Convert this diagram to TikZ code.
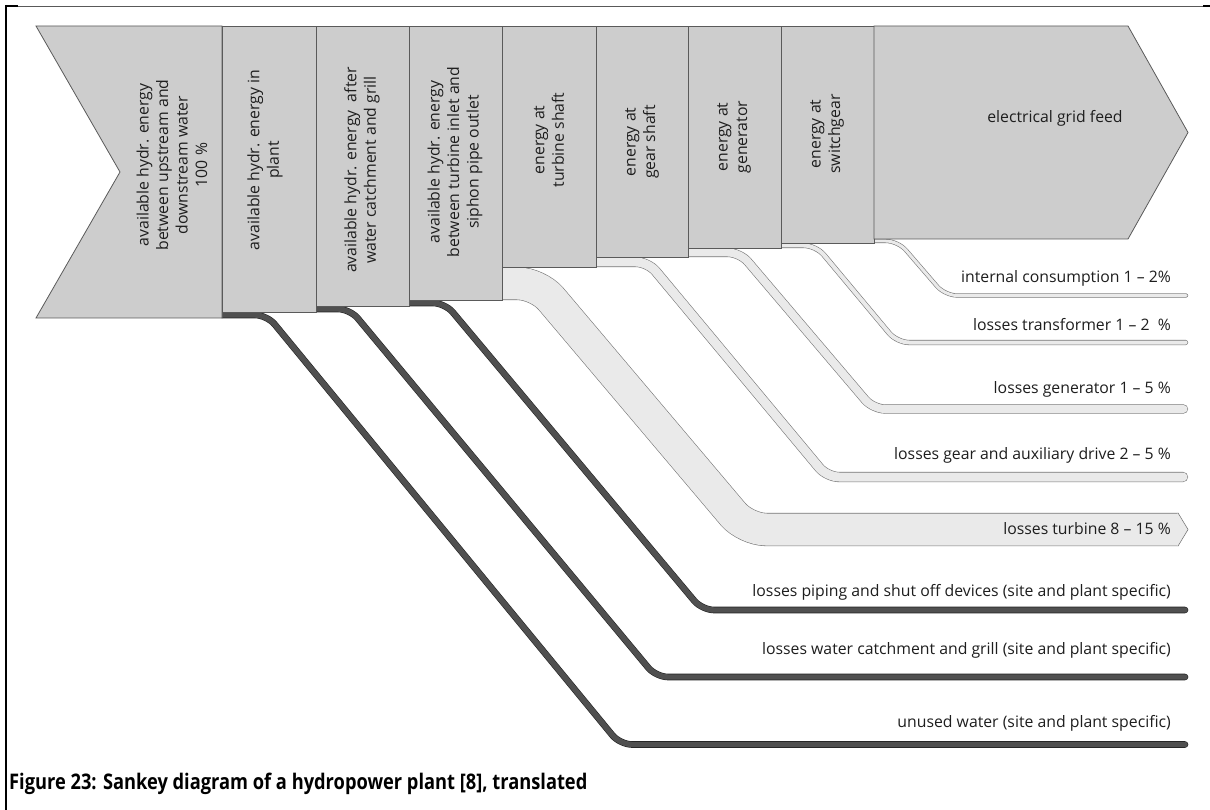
\documentclass[tikz,border=0pt]{standalone}
\usepackage{fontspec}
\setmainfont{Open Sans}
\usepackage{graphicx}
\usetikzlibrary{positioning}
\definecolor{blockfill}{HTML}{CDCDCD}
\definecolor{blockline}{HTML}{5A5A5A}
\definecolor{lightfill}{HTML}{EAEAEA}
\definecolor{lightline}{HTML}{777777}
\definecolor{darkfill}{HTML}{505050}
\definecolor{darkline}{HTML}{222222}
\definecolor{txt}{HTML}{1E1E1E}
\tikzset{
  block/.style={fill=blockfill,draw=blockline,line width=0.8pt},
  blocktext/.style={rotate=90,align=center,text=txt,inner sep=0pt,
                    font=\fontsize{15.8}{19.5}\selectfont},
  flow/.style={line width=0.6pt,double distance=#1,rounded corners=12pt,line cap=round},
  lightflow/.style={flow=#1,draw=lightline,double=lightfill},
  darkflow/.style={flow=#1,draw=darkline,double=darkfill},
  losslabel/.style={anchor=east,text=txt,inner sep=0pt,font=\fontsize{15.8}{19}\selectfont},
}
\begin{document}
\begin{tikzpicture}[x=1pt,y=-1pt]
  \useasboundingbox[fill=white] (0,0) rectangle (1210,810);

  % --- frame ---
  \draw[gray!70!black,line width=0.8pt] (6,6) -- (1207,6);
  \draw[black,line width=1.6pt] (6,5) -- (6,810);
  \draw[black,line width=1.6pt] (6,6) -- (18,6);
  \draw[black,line width=1.6pt] (1203,6) -- (1210,6);

  % --- losses (drawn first, the blocks cover their starts) ---
  \draw[darkflow=5.4pt] (222,315) -- (267,315) -- (620,744.5) -- (1185,744.5);
  \draw[darkflow=5.4pt] (316,309) -- (350,309) -- (656,677) -- (1185,677);
  \draw[darkflow=5.4pt] (409,303) -- (445,303) -- (702,610) -- (1185,610);
  \draw[lightflow=32pt,rounded corners=20pt,line cap=butt]
    (502,283.5) -- (538,283.5) -- (746,529.5) -- (1178,529.5);
  \fill[lightfill] (1177,512.9) -- (1188,529.5) -- (1177,546.1) -- cycle;
  \draw[lightline,line width=0.6pt] (1178,512.9) -- (1188,529.5) -- (1178,546.1);
  \draw[lightflow=9pt] (596,262) -- (648,262) -- (827,477) -- (1183,477);
  \draw[lightflow=8pt] (688,252.5) -- (740,252.5) -- (873,409) -- (1183.5,409);
  \draw[lightflow=4pt] (781,245.5) -- (816,245.5) -- (897,342.5) -- (1185.5,342.5);
  \draw[lightflow=3pt] (874,241) -- (898,241) -- (945,295.5) -- (1186,295.5);

  % --- energy blocks ---
  \draw[block] (36,26) -- (222,26) -- (222,318) -- (36,318) -- (120,172) -- cycle;
  \draw[block] (222,26) rectangle (316,312);
  \draw[block] (316,26) rectangle (409,306);
  \draw[block] (409,26) rectangle (502,300);
  \draw[block] (502,26) rectangle (596,267);
  \draw[block] (596,26) rectangle (688,257);
  \draw[block] (688,26) rectangle (781,248);
  \draw[block] (781,26) rectangle (874,243);
  \draw[block] (874,26) -- (1128,26) -- (1188,132.5) -- (1128,239) -- (874,239) -- cycle;

  \node[blocktext] (src) at (172,165)
    {available hydr. energy\\between upstream and\\downstream water\\100 \%};
  \node[blocktext] (plant) at (265,160) {available hydr. energy in\\plant};
  \node[blocktext] (catch) at (362,170) {available hydr. energy\ \ after\\water catchment and grill};
  \node[blocktext] (inlet) at (455,162)
    {available hydr. energy\\between turbine inlet and\\siphon pipe outlet};
  \node[blocktext] (tshaft) at (549,140) {energy at\\turbine shaft};
  \node[blocktext] (gshaft) at (642,142) {energy at\\gear shaft};
  \node[blocktext] (gen) at (734,137) {energy at\\generator};
  \node[blocktext] (swg) at (827,134) {energy at\\switchgear};
  \node[text=txt,font=\fontsize{15.8}{19}\selectfont] (grid) at (1055,118) {electrical grid feed};

  % --- loss labels ---
  \node[losslabel] (lint) at (1171,278) {internal consumption 1 – 2\%};
  \node[losslabel] (ltrafo) at (1171,325) {losses transformer 1 – 2\ \ \%};
  \node[losslabel] (lgen) at (1171,389) {losses generator 1 – 5 \%};
  \node[losslabel] (lgear) at (1171,455) {losses gear and auxiliary drive 2 – 5 \%};
  \node[losslabel] (lturb) at (1171,529) {losses turbine 8 – 15 \%};
  \node[losslabel] (lpipe) at (1171,592) {losses piping and shut off devices (site and plant specific)};
  \node[losslabel] (lcatch) at (1171,650) {losses water catchment and grill (site and plant specific)};
  \node[losslabel] (lunused) at (1171,723) {unused water (site and plant specific)};

  % --- caption ---
  \node[anchor=west,inner sep=0pt,font=\bfseries\fontsize{21.5}{24}\selectfont] (cap) at (9,784)
    {\scalebox{0.85}[1]{Figure 23: Sankey diagram of a hydropower plant [8], translated}};
\end{tikzpicture}
\end{document}
